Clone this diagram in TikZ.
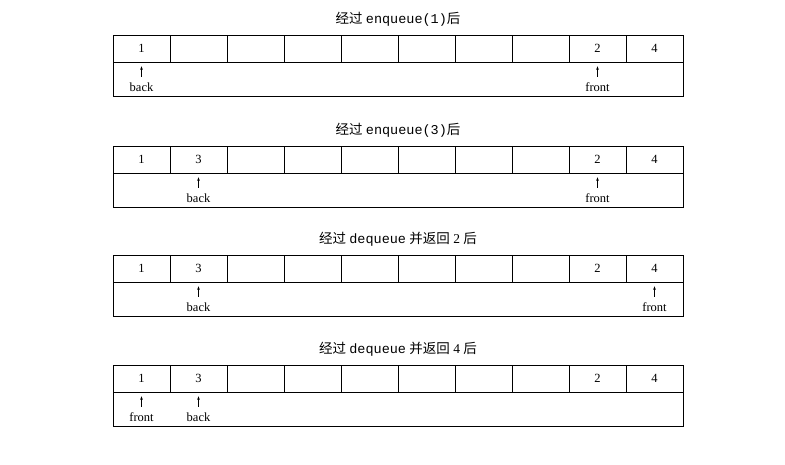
\documentclass[tikz,border=0pt]{standalone}
\usepackage{fontspec}
\setmainfont{Liberation Serif}
\setmonofont{Liberation Mono}
\newfontfamily\cjk{Noto Sans CJK SC}
\usetikzlibrary{arrows.meta}

% one queue state: #1 top edge, #2 title, #3 cell values, #4 front cell, #5 back cell
\newcommand\queuestate[5]{
  \node[title] (t#1) at (398,#1-16) {#2};
  \node[base] (b#1) at (398,#1+44) {};
  \foreach \v [count=\i] in {#3}
    \node[cell] (c#1x\i) at (113+57*\i-28.5,#1+13.5) {\v};
  \node[ptrlbl] (f#1) at (c#1x#4.center |- 0,#1+52) {front};
  \node[ptrlbl] (k#1) at (c#1x#5.center |- 0,#1+52) {back};
  \draw[ptr] (f#1) -- (c#1x#4);
  \draw[ptr] (k#1) -- (c#1x#5);
}

\begin{document}
\begin{tikzpicture}[x=1pt,y=-1pt,
  cell/.style={draw,line width=0.6pt,minimum width=57pt,minimum height=27pt,
    inner sep=0pt,font=\fontsize{12.5}{12.5}\selectfont},
  base/.style={draw,line width=0.6pt,minimum width=570pt,minimum height=34pt,inner sep=0pt},
  title/.style={inner sep=0pt,font=\fontsize{13.5}{14}\selectfont},
  ptrlbl/.style={inner sep=2pt,font=\fontsize{12.5}{12.5}\selectfont},
  ptr/.style={-{Stealth[length=3.5pt,width=2.6pt]},line width=0.5pt,
    shorten <=3.5pt,shorten >=4pt}]
  \useasboundingbox (0,0) rectangle (785,465);
  \fill[white] (0,0) rectangle (785,465);

  \queuestate{35}{{\cjk 经过} \texttt{enqueue(1)}{\cjk 后}}
    {1,{},{},{},{},{},{},{},2,4}{9}{1}
  \queuestate{146}{{\cjk 经过} \texttt{enqueue(3)}{\cjk 后}}
    {1,3,{},{},{},{},{},{},2,4}{9}{2}
  \queuestate{255}{{\cjk 经过} \texttt{dequeue} {\cjk 并返回} 2 {\cjk 后}}
    {1,3,{},{},{},{},{},{},2,4}{10}{2}
  \queuestate{365}{{\cjk 经过} \texttt{dequeue} {\cjk 并返回} 4 {\cjk 后}}
    {1,3,{},{},{},{},{},{},2,4}{1}{2}
\end{tikzpicture}
\end{document}
